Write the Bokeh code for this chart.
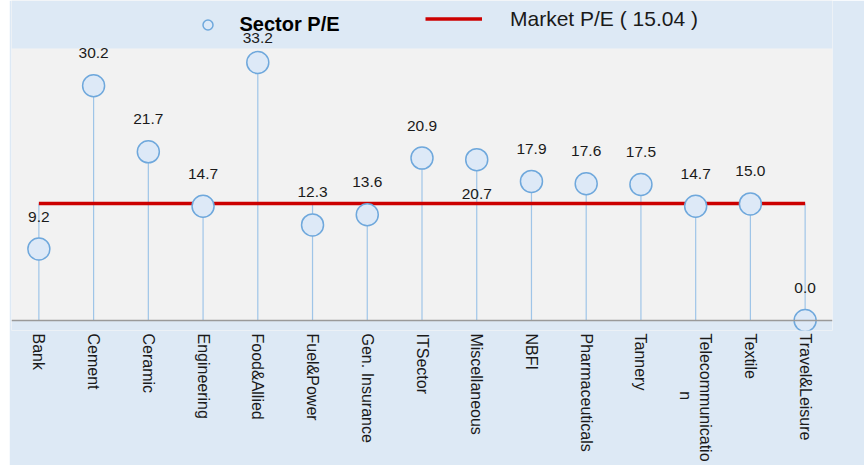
import math
from bokeh.plotting import figure
from bokeh.models import (FactorRange, Range1d, BoxAnnotation, Span, Legend, LegendItem,
                          CustomJSTickFormatter)
from bokeh.core.properties import value
from bokeh.embed import file_html
from bokeh.resources import INLINE

# ---- data ----
sectors = ["Bank", "Cement", "Ceramic", "Engineering", "Food&Allied", "Fuel&Power",
           "Gen. Insurance", "ITSector", "Miscellaneous", "NBFI", "Pharmaceuticals",
           "Tannery", "Telecommunication", "Textile", "Travel&Leisure"]
sector_pe = [9.2, 30.2, 21.7, 14.7, 33.2, 12.3, 13.6, 20.9, 20.7, 17.9, 17.6, 17.5, 14.7, 15.0, 0.0]
market_pe = 15.04
labels_below = ["Miscellaneous"]
wrapped_label = "Telecommunication"
wrapped_lines = ["Telecommunicatio", "\u00a0" * 13 + "n"]

BG = "#dde9f5"
PLOT_BG = "#f2f2f2"
FONT = "Liberation Sans"
AX_FS = "16px"

# layout in px
W, H = 855, 465
bottom_border = 135
frame_h = H - bottom_border
zero_px = 320           # y pixel of value 0
plot_top_val = 35.0     # top of grey plotting area
ppu = (zero_px - 48) / plot_top_val
y_start = -(frame_h - zero_px) / ppu
y_end = zero_px / ppu

def px_to_val(py):
    return (zero_px - py) / ppu

p = figure(width=W, height=H, x_range=FactorRange(*sectors), y_range=Range1d(y_start, y_end),
           output_backend="svg", toolbar_location=None, y_axis_location=None,
           min_border_left=2, min_border_right=32, min_border_top=0,
           min_border_bottom=bottom_border,
           background_fill_color=PLOT_BG, border_fill_color=BG, outline_line_color=None)
p.margin = (0, 0, 0, 9)
p.grid.visible = False

# bands outside the grey plotting area
p.add_layout(BoxAnnotation(bottom=plot_top_val, fill_color=BG, fill_alpha=1, line_alpha=0, level="underlay"))
p.add_layout(BoxAnnotation(top=0, fill_color=BG, fill_alpha=1, line_alpha=0, level="underlay"))
p.add_layout(Span(location=0, dimension="width", line_color="#9a9a9a", line_width=1.5))

stem_top = [max(v, market_pe) for v in sector_pe]
p.segment(x0=sectors, y0=[0] * len(sectors), x1=sectors, y1=stem_top,
          line_color="#9fc5e8", line_width=1.2)

mline = p.line(x=sectors, y=[market_pe] * len(sectors), line_color="#cc0000", line_width=3.5)

pts = p.scatter(x=sectors, y=sector_pe, size=22, marker="circle",
                fill_color="#dde9f7", line_color="#6fa8dc", line_width=1.5)

label_cap = px_to_val(37)
label_y = [v - 34 / ppu if s in labels_below else min(v + 32.5 / ppu, label_cap)
           for s, v in zip(sectors, sector_pe)]
vt = p.text(x=sectors, y=label_y, text=[f"{v:.1f}" for v in sector_pe],
            text_align="center", text_baseline="middle", text_font=value(FONT),
            text_font_size="15.5px", text_color="#1a1a1a")
vt.level = "overlay"

ax = p.xaxis[0]
ax.major_label_orientation = -math.pi / 2
ax.axis_line_color = None
ax.major_tick_line_color = None
ax.minor_tick_line_color = None
ax.major_tick_out = 0
ax.major_label_standoff = 3
ax.major_label_text_font = FONT
ax.major_label_text_font_size = AX_FS
ax.major_label_text_color = "#1a1a1a"
ax.formatter = CustomJSTickFormatter(args=dict(src=wrapped_label, dst="\n".join(wrapped_lines)),
                                     code="return tick == src ? dst : tick;")

leg1 = Legend(items=[LegendItem(label="Sector P/E", renderers=[pts])],
              location=(183.5, frame_h - 36.5), orientation="horizontal",
              padding=0, margin=0, spacing=0, glyph_width=25, glyph_height=25,
              label_standoff=20, label_height=25,
              label_text_font=FONT, label_text_font_size="20px", label_text_font_style="bold",
              label_text_color="#000000",
              background_fill_alpha=0, border_line_color=None)
leg2 = Legend(items=[LegendItem(label="Market P/E ( 15.04 )", renderers=[mline])],
              location=(414, frame_h - 31), orientation="horizontal",
              padding=0, margin=0, spacing=0, glyph_width=57, glyph_height=25,
              label_standoff=28, label_height=25,
              label_text_font=FONT, label_text_font_size="21px",
              label_text_color="#1a1a1a",
              background_fill_alpha=0, border_line_color=None)
p.add_layout(leg1, "center")
p.add_layout(leg2, "center")

open("out.html", "w").write(file_html(p, INLINE))
